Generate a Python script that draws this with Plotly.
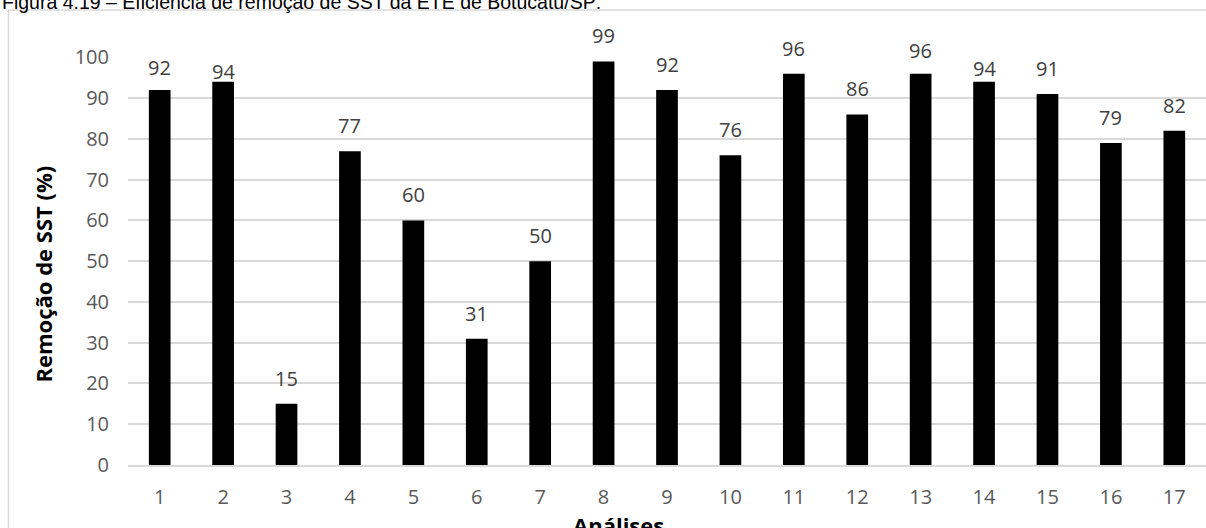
import plotly.graph_objects as go

# Remoção de SST por análise (%)
analises = list(range(1, 18))
remocao = [92, 94, 15, 77, 60, 31, 50, 99, 92, 76, 96, 86, 96, 94, 91, 79, 82]
tick_labels = [str(a) for a in analises]

titulo = "Figura 4.19 – Eficiência de remoção de SST da ETE de Botucatu/SP:"
titulo_y = "Remoção de SST (%)"
titulo_x = "Análises"

# extra downward shift (px) for labels that sit lower than the rest
label_drop = {1: 3, 2: 15, 13: 2, 14: 12}

# Figure geometry (pixels)
W, H = 1206, 528
ML, MR, MT, MB = 128, 0, 57, 63
PW, PH = W - ML - MR, H - MT - MB


def px_x(p):
    return (p - ML) / PW


def px_y(p):
    return (H - MB - p) / PH


GRID = "#d9d9d9"
TICK = "#595959"
LABEL = "#404040"
FONT = "Open Sans"

fig = go.Figure()
fig.add_trace(go.Bar(
    x=analises,
    y=remocao,
    width=0.342,
    marker=dict(color="#000000", line=dict(width=0)),
    hoverinfo="skip",
))

# value labels above each bar
for a, v in zip(analises, remocao):
    fig.add_annotation(
        x=a, y=v, text=str(v), showarrow=False,
        xref="x", yref="y", yanchor="bottom", yshift=10 - label_drop.get(a, 0),
        font=dict(family=FONT, size=20, color=LABEL),
    )

# chart frame
fig.add_shape(
    type="rect", xref="paper", yref="paper",
    x0=px_x(8.5), x1=px_x(1230), y0=px_y(560), y1=px_y(10),
    line=dict(color=GRID, width=1.5), fillcolor="rgba(0,0,0,0)", layer="below",
)

# caption line above the chart
fig.add_annotation(
    x=px_x(0), y=px_y(1.5), xref="paper", yref="paper",
    xanchor="left", yanchor="middle", showarrow=False,
    text=titulo, font=dict(family="Liberation Sans", size=19.5, color="#000000"),
)

# axis titles
fig.add_annotation(
    x=px_x(42), y=px_y(274.5), xref="paper", yref="paper",
    xanchor="center", yanchor="middle", showarrow=False, textangle=-90,
    text="<b>" + titulo_y + "</b>", font=dict(family=FONT, size=22, color="#000000"),
)
fig.add_annotation(
    x=px_x(618), y=px_y(525), xref="paper", yref="paper",
    xanchor="center", yanchor="middle", showarrow=False,
    text="<b>" + titulo_x + "</b>", font=dict(family=FONT, size=22, color="#000000"),
)

fig.update_layout(
    width=W, height=H,
    margin=dict(l=ML, r=MR, t=MT, b=MB, pad=0),
    paper_bgcolor="#ffffff", plot_bgcolor="#ffffff",
    showlegend=False,
    font=dict(family=FONT),
)
fig.update_xaxes(
    range=[0.5, 17.5], tickmode="array", tickvals=analises, ticktext=tick_labels,
    showgrid=False, zeroline=False, showline=True, linecolor=GRID, linewidth=1.5,
    ticks="", ticklabelstandoff=13,
    tickfont=dict(family=FONT, size=20, color=TICK),
)
fig.update_yaxes(
    range=[0, 100.1], dtick=10, tick0=0,
    showgrid=True, gridcolor=GRID, gridwidth=1.5,
    zeroline=False, showline=False, ticks="", ticklabelstandoff=18,
    tickfont=dict(family=FONT, size=20, color=TICK),
)

fig.write_html("out.html")
